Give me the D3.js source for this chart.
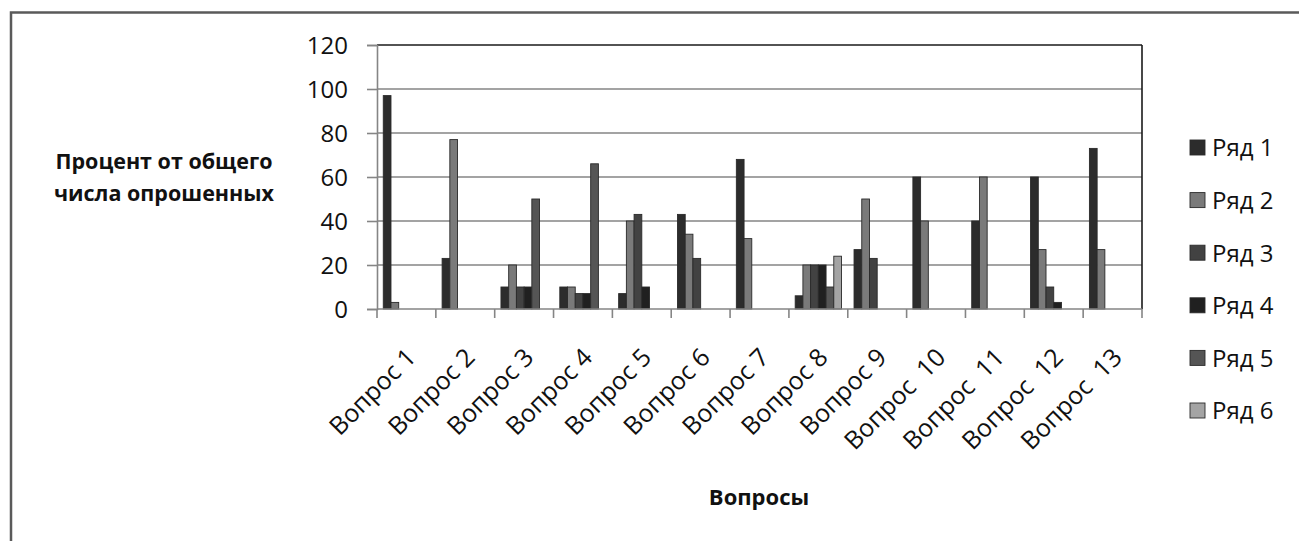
<!DOCTYPE html>
<html><head><meta charset="utf-8">
<script src="https://cdn.jsdelivr.net/npm/d3@7"></script>
<style>body{margin:0;background:#fff}svg{display:block}text{font-family:"Open Sans",sans-serif;fill:#111}</style>
</head><body><svg id="c" width="1299" height="541"></svg>
<script>
const categories = ["Вопрос 1","Вопрос 2","Вопрос 3","Вопрос 4","Вопрос 5","Вопрос 6","Вопрос 7","Вопрос 8","Вопрос 9","Вопрос  10","Вопрос  11","Вопрос  12","Вопрос  13"];
const seriesNames = ["Ряд 1","Ряд 2","Ряд 3","Ряд 4","Ряд 5","Ряд 6"];
const ser1 = [97,23,10,10,7,43,68,6,27,60,40,60,73];
const ser2 = [3,77,20,10,40,34,32,20,50,40,60,27,27];
const ser3 = [0,0,10,7,43,23,0,20,23,0,0,10,0];
const ser4 = [0,0,10,7,10,0,0,20,0,0,0,3,0];
const ser5 = [0,0,50,66,0,0,0,10,0,0,0,0,0];
const ser6 = [0,0,0,0,0,0,0,24,0,0,0,0,0];
const yTicks = [0,20,40,60,80,100,120];
const colors = ["#2c2c2c","#7a7a7a","#424242","#202020","#555555","#a4a4a4"];
const seriesVals = [ser1,ser2,ser3,ser4,ser5,ser6];

const svg = d3.select("#c");
const L=377,R=1142,T=45,B=309;
svg.append("rect").attr("x",11).attr("y",12.5).attr("width",1400).attr("height",600)
  .attr("fill","none").attr("stroke","#5a5a5a").attr("stroke-width",2.5);

const y = d3.scaleLinear().domain([0,120]).range([B,T]);
const pi = 0.213;
const x0 = d3.scaleBand().domain(categories).range([L,R]).paddingInner(pi).paddingOuter(pi/2);
const x1 = d3.scaleBand().domain(d3.range(6)).range([0,x0.bandwidth()]);

// gridlines
svg.append("g").selectAll("line").data(yTicks.slice(1)).join("line")
  .attr("x1",L).attr("x2",R).attr("y1",d=>y(d)).attr("y2",d=>y(d))
  .attr("stroke",d=>d===120?"#1a1a1a":"#858585").attr("stroke-width",1.6);
svg.append("line").attr("x1",R).attr("x2",R).attr("y1",T).attr("y2",B).attr("stroke","#1a1a1a").attr("stroke-width",1.6);

// bars
const g = svg.append("g");
seriesVals.forEach((vals,s)=>{
  g.selectAll(null).data(vals.map((v,i)=>({v,c:categories[i]})).filter(d=>d.v>0)).join("rect")
    .attr("x",d=>x0(d.c)+x1(s)).attr("width",x1.bandwidth())
    .attr("y",d=>y(d.v)).attr("height",d=>y(0)-y(d.v))
    .attr("fill",colors[s]).attr("stroke","#2a2a2a").attr("stroke-width",0.9);
});

// y axis
const ya = svg.append("g").attr("transform",`translate(${L},0)`)
  .call(d3.axisLeft(y).tickValues(yTicks).tickSize(10).tickPadding(19));
ya.select(".domain").attr("stroke","#858585").attr("stroke-width",1.6);
ya.selectAll(".tick line").attr("stroke","#858585").attr("stroke-width",1.6);
ya.selectAll(".tick text").style("font-size","24px").style("font-family","Open Sans").attr("fill","#111").attr("dy","0.35em");

// x axis
const bounds = d3.range(14).map(i=>L+i*(R-L)/13);
svg.append("line").attr("x1",L).attr("x2",R).attr("y1",B).attr("y2",B).attr("stroke","#858585").attr("stroke-width",1.6);
svg.append("g").selectAll("line").data(bounds).join("line")
  .attr("x1",d=>d).attr("x2",d=>d).attr("y1",B).attr("y2",B+9).attr("stroke","#858585").attr("stroke-width",1.6);
svg.append("g").selectAll("text").data(categories).join("text")
  .attr("transform",d=>`translate(${x0(d)+x0.bandwidth()/2+11},${359}) rotate(-45)`)
  .attr("text-anchor","end").style("font-size","25px").style("white-space","pre").text(d=>d);

// axis titles
svg.append("text").attr("x",759).attr("y",505).attr("text-anchor","middle")
  .style("font-size","22px").style("font-weight","bold").text("Вопросы");
const yt = svg.append("text").attr("text-anchor","middle").style("font-size","21.5px").style("font-weight","bold");
yt.append("tspan").attr("x",164).attr("y",169).text("Процент от общего");
yt.append("tspan").attr("x",164).attr("y",201).text("числа опрошенных");

// legend
const lg = svg.append("g").selectAll("g").data(seriesNames).join("g")
  .attr("transform",(d,i)=>`translate(1190,${148+i*52.6})`);
lg.append("rect").attr("x",0).attr("y",-8).attr("width",15).attr("height",15)
  .attr("fill",(d,i)=>colors[i]).attr("stroke","#2a2a2a").attr("stroke-width",0.9);
lg.append("text").attr("x",22).attr("y",0).attr("dy","0.35em").style("font-size","24px").text(d=>d);
</script></body></html>
